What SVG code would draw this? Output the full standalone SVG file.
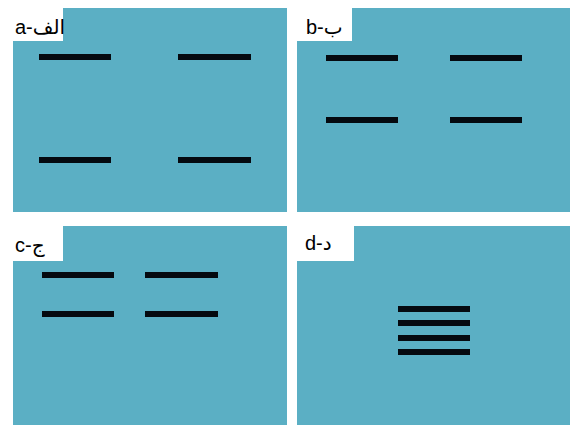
<svg xmlns="http://www.w3.org/2000/svg" width="570" height="425" viewBox="0 0 570 425">
<style>
.panel{fill:#5BAFC4}
.lbox{fill:#ffffff}
.bar{stroke:#050a10;stroke-width:6;stroke-linecap:butt}
.lbl{font-family:"Liberation Sans","DejaVu Sans",sans-serif;font-size:20px;fill:#000}
</style>
<rect width="570" height="425" fill="#ffffff"/>
<g id="panel-a">
<rect class="panel" x="13" y="8" width="274" height="204"/>
<rect class="lbox" x="13" y="8" width="50" height="33"/>
<text class="lbl" x="15" y="34">a-الف</text>
<line class="bar" x1="39" y1="57" x2="111" y2="57"/>
<line class="bar" x1="178" y1="57" x2="251" y2="57"/>
<line class="bar" x1="39" y1="160" x2="111" y2="160"/>
<line class="bar" x1="178" y1="160" x2="251" y2="160"/>
</g>
<g id="panel-b">
<rect class="panel" x="297" y="8" width="273" height="204"/>
<rect class="lbox" x="297" y="8" width="55" height="33"/>
<text class="lbl" x="306" y="34">b-ب</text>
<line class="bar" x1="326" y1="58" x2="398" y2="58"/>
<line class="bar" x1="450" y1="58" x2="522" y2="58"/>
<line class="bar" x1="326" y1="120" x2="398" y2="120"/>
<line class="bar" x1="450" y1="120" x2="522" y2="120"/>
</g>
<g id="panel-c">
<rect class="panel" x="13" y="226" width="274" height="199"/>
<rect class="lbox" x="13" y="226" width="50" height="35"/>
<text class="lbl" x="15" y="252">c-ج</text>
<line class="bar" x1="42" y1="275" x2="114" y2="275"/>
<line class="bar" x1="145" y1="275" x2="218" y2="275"/>
<line class="bar" x1="42" y1="314" x2="114" y2="314"/>
<line class="bar" x1="145" y1="314" x2="218" y2="314"/>
</g>
<g id="panel-d">
<rect class="panel" x="297" y="226" width="273" height="199"/>
<rect class="lbox" x="297" y="226" width="57" height="35"/>
<text class="lbl" x="305" y="250">d-د</text>
<line class="bar" x1="398" y1="309" x2="470" y2="309"/>
<line class="bar" x1="398" y1="323" x2="470" y2="323"/>
<line class="bar" x1="398" y1="338" x2="470" y2="338"/>
<line class="bar" x1="398" y1="352" x2="470" y2="352"/>
</g>
</svg>
